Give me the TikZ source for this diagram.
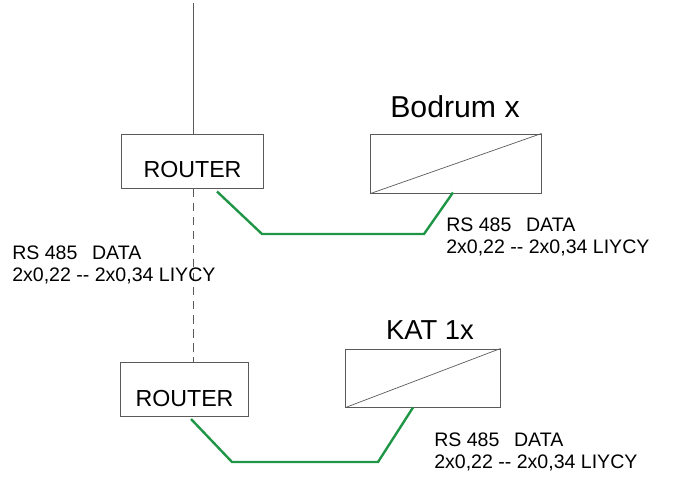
\documentclass[tikz,border=0pt]{standalone}
\usepackage{fontspec}
\setmainfont{Liberation Sans}
\usetikzlibrary{calc}
\definecolor{busgreen}{RGB}{30,150,70}
\definecolor{boxgray}{RGB}{90,90,90}
\tikzset{
  devbox/.style={draw=boxgray,line width=0.7pt,minimum width=#1,inner sep=0pt},
  bus/.style={busgreen,line width=1.7pt},
  cable/.style={font=\fontsize{13.9}{15.8}\selectfont,align=left,anchor=west,inner sep=0pt}
}
\begin{document}
\begin{tikzpicture}[x=0.025cm,y=-0.025cm]
        \useasboundingbox (0,0) rectangle (675,476);
        %routers
        \node[devbox=3.525cm,minimum height=1.35cm] (r1) at (192.5,161) {};
        \node[font=\fontsize{16.5}{18}\selectfont] (r1t) at (192.5,170) {ROUTER};
        \node[devbox=3.2cm,minimum height=1.35cm] (r2) at (184.5,389.5) {};
        \node[font=\fontsize{16.5}{18}\selectfont] (r2t) at (184.5,398) {ROUTER};
        \coordinate (up) at (193,3);
        \draw[boxgray,line width=0.6pt] (up) -- (up |- r1.north);
        \draw[boxgray,line width=0.6pt,dash pattern=on 6pt off 4pt] (r1.south -| up) -- (r2.north -| up);
        
        %devices
        \node[devbox=4.25cm,minimum height=1.475cm] (bod) at (456,163.5) {};
        \draw[boxgray,line width=0.5pt] (bod.south west) -- (bod.north east);
        \node[font=\fontsize{21.5}{24}\selectfont] (bodt) at (455,107) {Bodrum x};
        \node[devbox=3.85cm,minimum height=1.45cm] (kat) at (423,378) {};
        \draw[boxgray,line width=0.5pt] (kat.south west) -- (kat.north east);
        \node[font=\fontsize{19.5}{22}\selectfont] (katt) at (430,330) {KAT 1x};
        
        %RS 485 lines
        \draw[bus] ($(r1.south)+(24.5,3)$) -- (262,234) -- (424,234) -- ($(bod.south)+(-3,-1)$);
        \draw[bus] ($(r2.south)+(6.5,2)$) -- (232,462) -- (378,462) -- ($(kat.south)+(-10,0)$);
        
        \node[cable] (c1) at (446,237) {RS 485\hspace{0.75em}DATA\\2x0,22 -{}- 2x0,34 LIYCY};
        \node[cable] (c2) at (12,265) {RS 485\hspace{0.75em}DATA\\2x0,22 -{}- 2x0,34 LIYCY};
        \node[cable] (c3) at (434,452) {RS 485\hspace{0.75em}DATA\\2x0,22 -{}- 2x0,34 LIYCY};
\end{tikzpicture}
\end{document}
